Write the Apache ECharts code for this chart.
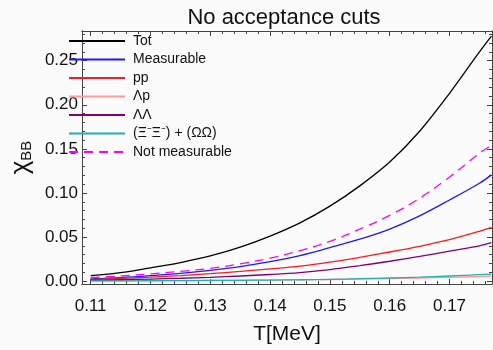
<!DOCTYPE html>
<html>
<head>
<meta charset="utf-8">
<script src="https://cdn.jsdelivr.net/npm/echarts@6/dist/echarts.min.js"></script>
<style>
  html, body { margin: 0; padding: 0; background: #fbfbfb; }
  #chart { width: 493px; height: 350px; }
</style>
</head>
<body>
<div id="chart"></div>
<script>
// temperature grid (GeV, axis says MeV)
var temps = [0.110, 0.115, 0.120, 0.125, 0.130, 0.135, 0.140, 0.145, 0.150, 0.155, 0.160, 0.165, 0.170, 0.175, 0.177];
// values
var tot           = [0.0062, 0.0095, 0.0150, 0.0210, 0.0285, 0.0385, 0.0510, 0.0660, 0.0850, 0.1080, 0.1350, 0.1700, 0.2130, 0.2600, 0.2780];
var measurable    = [0.0025, 0.0040, 0.0062, 0.0088, 0.0122, 0.0165, 0.0220, 0.0290, 0.0380, 0.0475, 0.0590, 0.0740, 0.0920, 0.1110, 0.1205];
var pp            = [0.0018, 0.0030, 0.0045, 0.0063, 0.0085, 0.0110, 0.0138, 0.0170, 0.0215, 0.0270, 0.0330, 0.0395, 0.0470, 0.0565, 0.0610];
var lambdaP       = [0.0003, 0.0004, 0.0005, 0.0006, 0.0008, 0.0010, 0.0012, 0.0015, 0.0018, 0.0023, 0.0028, 0.0035, 0.0042, 0.0052, 0.0058];
var lambdaLambda  = [0.0009, 0.0015, 0.0023, 0.0032, 0.0043, 0.0058, 0.0075, 0.0097, 0.0130, 0.0175, 0.0225, 0.0280, 0.0340, 0.0400, 0.0435];
var xiOmega       = [0.0002, 0.0003, 0.0004, 0.0005, 0.0007, 0.0009, 0.0012, 0.0015, 0.0020, 0.0027, 0.0035, 0.0045, 0.0058, 0.0073, 0.0080];
var notMeasurable = [0.0038, 0.0058, 0.0082, 0.0110, 0.0145, 0.0195, 0.0260, 0.0345, 0.0450, 0.0590, 0.0745, 0.0940, 0.1180, 0.1450, 0.1540];

var xMajor = [0.11, 0.12, 0.13, 0.14, 0.15, 0.16, 0.17];
var xMinor = [0.110, 0.112, 0.114, 0.116, 0.118, 0.120, 0.122, 0.124, 0.126, 0.128, 0.130, 0.132, 0.134, 0.136, 0.138,
              0.140, 0.142, 0.144, 0.146, 0.148, 0.150, 0.152, 0.154, 0.156, 0.158, 0.160, 0.162, 0.164, 0.166, 0.168,
              0.170, 0.172, 0.174, 0.176];
var yMajor = [0.00, 0.05, 0.10, 0.15, 0.20, 0.25];
var yMinor = [0.00, 0.01, 0.02, 0.03, 0.04, 0.05, 0.06, 0.07, 0.08, 0.09, 0.10, 0.11, 0.12, 0.13, 0.14,
              0.15, 0.16, 0.17, 0.18, 0.19, 0.20, 0.21, 0.22, 0.23, 0.24, 0.25, 0.26, 0.27, 0.28];

var XMIN = 0.10855, XMAX = 0.1771;
var YMIN = -0.0033, YMAX = 0.2837;
var font = 'Liberation Sans, Arial, Helvetica, sans-serif';
var frame = '#444';

function pairs(ys) {
  var out = [];
  for (var i = 0; i < temps.length; i++) out.push([temps[i], ys[i]]);
  return out;
}

function makeX(pos, ticks, len, labels) {
  return {
    type: 'value', position: pos, min: XMIN, max: XMAX,
    axisLine: { show: true, onZero: false, lineStyle: { color: frame, width: 1 } },
    axisTick: { show: true, inside: true, length: len, customValues: ticks, lineStyle: { color: frame } },
    axisLabel: labels ? {
      show: true, customValues: xMajor, margin: 14, color: '#111', fontSize: 17, fontFamily: font,
      formatter: function (v) { return v.toFixed(2); }
    } : { show: false },
    splitLine: { show: false },
    name: labels ? 'T[MeV]' : '',
    nameLocation: 'middle', nameGap: 40,
    nameTextStyle: { color: '#111', fontSize: 21, fontFamily: font }
  };
}

function makeY(pos, ticks, len, labels) {
  return {
    type: 'value', position: pos, min: YMIN, max: YMAX,
    axisLine: { show: true, onZero: false, lineStyle: { color: frame, width: 1 } },
    axisTick: { show: true, inside: true, length: len, customValues: ticks, lineStyle: { color: frame } },
    axisLabel: labels ? {
      show: true, customValues: yMajor, margin: 4, color: '#111', fontSize: 17, fontFamily: font,
      formatter: function (v) { return v.toFixed(2); }
    } : { show: false },
    splitLine: { show: false },
    name: labels ? '{a|χ}{b|BB}' : '',
    nameLocation: 'middle', nameGap: 46, nameRotate: 90,
    nameTextStyle: {
      color: '#111', fontFamily: font,
      rich: {
        a: { fontSize: 26, fontFamily: font, color: '#111' },
        b: { fontSize: 15, fontFamily: font, color: '#111', verticalAlign: 'bottom', padding: [10, 0, 0, 0] }
      }
    }
  };
}

function line(name, ys, color, dashed) {
  return {
    name: name, type: 'line', data: pairs(ys), xAxisIndex: 0, yAxisIndex: 0,
    symbol: 'none', smooth: 0.35, clip: true,
    lineStyle: { color: color, width: 1.3, type: dashed ? [9, 6] : 'solid' },
    itemStyle: { color: color }
  };
}

var chart = echarts.init(document.getElementById('chart'), null, { renderer: 'canvas' });
chart.setOption({
  backgroundColor: '#fbfbfb',
  animation: false,
  title: {
    text: 'No acceptance cuts', left: 279, top: 2, textAlign: 'center',
    textStyle: { color: '#111', fontSize: 22, fontWeight: 'normal', fontFamily: font }
  },
  grid: { left: 66, right: 1, top: 31, bottom: 57.5, containLabel: false },
  legend: {
    orient: 'vertical', left: 63, top: 27,
    itemWidth: 56, itemHeight: 10, itemGap: 0.5,
    itemStyle: { opacity: 0 },
    textStyle: { color: '#111', fontSize: 14, fontFamily: font, lineHeight: 18, padding: [0, 0, 0, 3] },
    data: ['Tot', 'Measurable', 'pp', 'Λp', 'ΛΛ', '(Ξ⁻Ξ⁻) + (ΩΩ)', 'Not measurable']
  },
  xAxis: [
    makeX('bottom', xMajor, 5, true),
    makeX('bottom', xMinor, 3, false),
    makeX('top', xMajor, 5, false),
    makeX('top', xMinor, 3, false)
  ],
  yAxis: [
    makeY('left', yMajor, 5, true),
    makeY('left', yMinor, 3, false),
    makeY('right', yMajor, 5, false),
    makeY('right', yMinor, 3, false)
  ],
  series: [
    line('Tot', tot, '#000000'),
    line('Measurable', measurable, '#1a1aff'),
    line('pp', pp, '#ff1a1a'),
    line('Λp', lambdaP, '#ff9c9c'),
    line('ΛΛ', lambdaLambda, '#800080'),
    line('(Ξ⁻Ξ⁻) + (ΩΩ)', xiOmega, '#20b0b0'),
    line('Not measurable', notMeasurable, '#ff00ff', true)
  ]
});
</script>
</body>
</html>
